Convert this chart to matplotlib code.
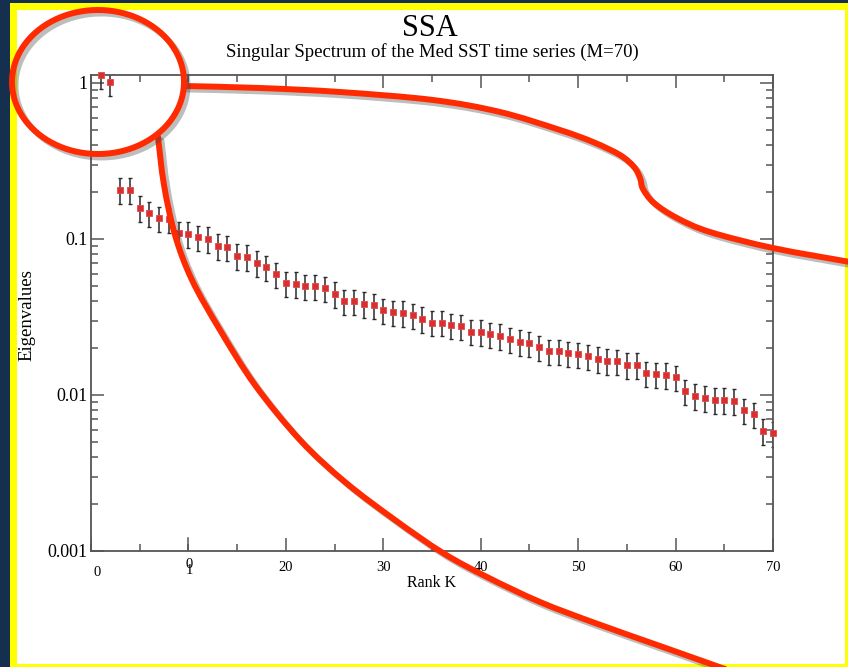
"""SSA singular spectrum: eigenvalues vs rank, log scale, with the red hand-drawn callout."""

import numpy as np
import matplotlib
matplotlib.use("Agg")
import matplotlib.pyplot as plt
from matplotlib import patheffects as pe
from matplotlib.patches import Rectangle, PathPatch
from matplotlib.path import Path
from matplotlib.ticker import LogLocator, NullFormatter

# ---- data ----
rank = np.arange(1, 71)
eigenvalues = [
    1.125, 1.010, 0.2061, 0.2061, 0.1587, 0.1457, 0.1357, 0.1343, 0.1085, 0.1077,
    0.1025, 0.1000, 0.0902, 0.0885, 0.0778, 0.0770, 0.0702, 0.0657, 0.0594, 0.0522,
    0.0515, 0.0497, 0.0497, 0.0483, 0.0444, 0.0400, 0.0399, 0.0385, 0.0376, 0.0350,
    0.0339, 0.0337, 0.0325, 0.0307, 0.0291, 0.0291, 0.0280, 0.0276, 0.0255, 0.0254,
    0.0245, 0.0240, 0.0227, 0.0219, 0.0215, 0.0203, 0.0191, 0.0191, 0.0185, 0.0183,
    0.0177, 0.0171, 0.0166, 0.0165, 0.0156, 0.0156, 0.0138, 0.0136, 0.0135, 0.0130,
    0.01056, 0.00990, 0.00961, 0.00929, 0.00929, 0.00920, 0.00798, 0.00753, 0.00590, 0.00568,
]
ERR_FRAC = 0.185  # error bars ~ +/- 18.5 % of each eigenvalue

x_ticks = [20, 30, 40, 50, 60, 70]
y_ticks = [1, 0.1, 0.01, 0.001]
y_labels = ["1", "0.1", "0.01", "0.001"]

TITLE = "SSA"
SUBTITLE = "Singular Spectrum of the Med SST time series (M=70)"

W, H = 848, 667
NAVY = "#15304f"
RED = "#ff2a00"
plt.rcParams["font.family"] = ["Liberation Serif", "DejaVu Serif"]


def fx(px):
    return px / W


def fy(py):
    return 1 - py / H


def smooth_path(pts):
    """Catmull-Rom -> cubic bezier through the given pixel points."""
    pts = np.asarray(pts, float)
    verts, codes = [pts[0]], [Path.MOVETO]
    n = len(pts)
    for i in range(n - 1):
        p0, p1 = pts[max(i - 1, 0)], pts[i]
        p2, p3 = pts[i + 1], pts[min(i + 2, n - 1)]
        verts += [p1 + (p2 - p0) / 6, p2 - (p3 - p1) / 6, p2]
        codes += [Path.CURVE4] * 3
    return Path(verts, codes)


fig = plt.figure(figsize=(W / 100, H / 100), dpi=100, facecolor=NAVY)

# yellow frame and white panel (behind everything)
fig.patches.append(Rectangle((fx(10), 0), 1, fy(3), transform=fig.transFigure,
                             facecolor="#ffff00", edgecolor="none", zorder=-20))
fig.patches.append(Rectangle((fx(17), fy(664)), fx(845 - 17), (664 - 10) / H,
                             transform=fig.transFigure, facecolor="white",
                             edgecolor="none", zorder=-10))

ax = fig.add_axes([fx(91), fy(551), fx(773 - 91), (551 - 75) / H], zorder=1)
ax.set_facecolor("none")

err = np.asarray(eigenvalues) * ERR_FRAC
ax.errorbar(rank, eigenvalues, yerr=err, fmt="none", ecolor="#2a2a2a",
            elinewidth=1.1, capsize=1.4, capthick=1.0, zorder=2)
ax.plot(rank, eigenvalues, "s", color="#d9302f", mec="#e24848", mew=0.6,
        ms=5, clip_on=False, zorder=3)

ax.set_yscale("log")
ax.set_xlim(0, 70)
ax.set_ylim(0.001, 1.125)
ax.set_yticks(y_ticks)
ax.set_yticklabels(y_labels)
ax.yaxis.set_minor_locator(LogLocator(base=10, subs=range(2, 10)))
ax.yaxis.set_minor_formatter(NullFormatter())
ax.set_xticks(x_ticks)
ax.set_xticklabels([str(t) for t in x_ticks])
ax.set_xticks(np.arange(0, 71, 5), minor=True)

ax.tick_params(which="both", direction="in", top=True, right=True,
               color="#555555", width=1.1)
ax.tick_params(which="major", length=9.5)
ax.tick_params(which="minor", length=5)
ax.tick_params(axis="x", which="major", labelsize=10.5, pad=7)
ax.tick_params(axis="y", which="major", labelsize=13, pad=2.5)
# the x=0 and x=10 ticks still need the long major mark
frac = 9.5 * 100 / 72 / 476
for xv in (0, 10):
    ax.axvline(xv, ymin=0, ymax=frac, color="#555555", lw=1.1, zorder=1)
    ax.axvline(xv, ymin=1 - frac, ymax=1, color="#555555", lw=1.1, zorder=1)
for s in ax.spines.values():
    s.set_color("#555555")
    s.set_linewidth(1.3)

# odd labels at 0 and 10 as in the original
xt = ax.get_xaxis_transform()
ax.text(0.6, -(572 - 551) / 476, "0", transform=xt, ha="center", va="center", fontsize=10.5)
ax.text(10.1, -(571 - 551) / 476, "1", transform=xt, ha="center", va="center", fontsize=10.5)
ax.text(10.1, -(565 - 551) / 476, "0", transform=xt, ha="center", va="center", fontsize=10.5)

fig.text(fx(430), fy(28), TITLE, ha="center", va="center", fontsize=22)
fig.text(fx(432), fy(52), SUBTITLE, ha="center", va="center", fontsize=13.5)
fig.text(fx(27), fy(315), "Eigenvalues", rotation=90, ha="center", va="center", fontsize=13.5)
fig.text(fx(432), fy(583), "Rank K", ha="center", va="center", fontsize=11.5)

# ---- red hand-drawn callout, in pixel coordinates ----
ov = fig.add_axes([0, 0, 1, 1], zorder=10)
ov.set_xlim(0, W)
ov.set_ylim(H, 0)
ov.axis("off")
ov.patch.set_alpha(0)

shadow = [pe.SimpleLineShadow(offset=(2.5, -2.5), shadow_color="#444444", alpha=0.35),
          pe.Normal()]

t = np.linspace(0, 2 * np.pi, 300)
ov.plot(98 + 86 * np.cos(t), 82 + 72 * np.sin(t), color=RED, lw=4.3,
        solid_capstyle="round", path_effects=shadow, clip_on=False)

upper = [(184, 86), (260, 88), (340, 92), (433, 100), (500, 112), (560, 130),
         (593, 142), (620, 155), (634, 167), (640, 178), (643, 189), (654, 203),
         (677, 218), (710, 232), (773, 248), (850, 262)]
lower = [(158, 137), (164, 185), (175, 235), (192, 280), (220, 330), (255, 385),
         (300, 440), (345, 482), (395, 520), (443, 553), (487, 577), (540, 602),
         (595, 623), (660, 646), (725, 669)]
for pts in (upper, lower):
    ov.add_patch(PathPatch(smooth_path(pts), fill=False, edgecolor=RED, lw=4.3,
                           capstyle="round", path_effects=shadow, clip_on=False))

fig.savefig("out.png", dpi=100, facecolor=NAVY)
